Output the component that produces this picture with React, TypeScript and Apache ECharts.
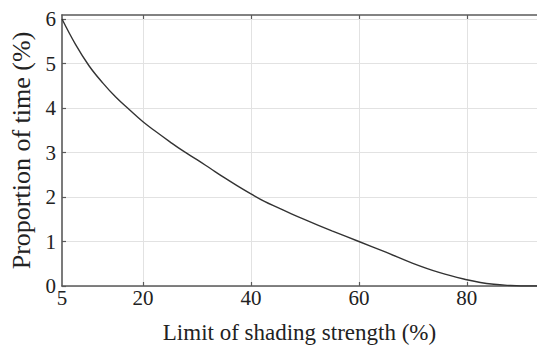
import React, { useEffect, useRef } from "react";
import * as echarts from "echarts";

const shadingLimit = [5, 7.5, 10, 12.5, 15, 17.5, 20, 22.5, 25, 27.5, 30, 32.5, 35, 37.5, 40, 42.5, 45, 47.5, 50, 55, 60, 65, 70, 75, 80, 82.5, 85, 87.5, 90, 93];
const proportionTime = [6.0, 5.43, 4.95, 4.57, 4.24, 3.96, 3.69, 3.46, 3.24, 3.03, 2.84, 2.64, 2.44, 2.25, 2.07, 1.9, 1.76, 1.62, 1.49, 1.24, 1.0, 0.76, 0.51, 0.3, 0.14, 0.08, 0.04, 0.015, 0.0, 0.0];
const xLabelValues = [5, 20, 40, 60, 80];
const xTickValues = [20, 40, 60, 80];
const yTickValues = [0, 1, 2, 3, 4, 5, 6];

const FONT = "'Liberation Serif', 'Times New Roman', serif";

export default function App() {
  const ref = useRef<HTMLDivElement>(null);
  useEffect(() => {
    if (!ref.current) return;
    const chart = echarts.init(ref.current, undefined, { renderer: "svg" });
    const axisLineStyle = { color: "#5a5a5a", width: 1.6 };
    const tickStyle = { color: "#5a5a5a", width: 1.2 };
    chart.setOption({
      animation: false,
      backgroundColor: "#ffffff",
      textStyle: { fontFamily: FONT },
      grid: { left: 62, top: 15, right: 0, bottom: 57, containLabel: false },
      xAxis: [
        {
          type: "value",
          min: 5,
          max: 93,
          name: "Limit of shading strength (%)",
          nameLocation: "middle",
          nameGap: 35,
          nameTextStyle: { fontFamily: FONT, fontSize: 23, color: "#222" },
          axisLine: { show: true, onZero: false, lineStyle: axisLineStyle },
          axisTick: { show: true, inside: true, length: 4, customValues: xTickValues, lineStyle: tickStyle },
          axisLabel: { customValues: xLabelValues, fontFamily: FONT, fontSize: 21, color: "#222", margin: 1 },
          splitLine: { show: true, lineStyle: { color: "#e2e2e2", width: 1 } },
        },
        {
          type: "value",
          position: "top",
          min: 5,
          max: 93,
          axisLine: { show: true, onZero: false, lineStyle: axisLineStyle },
          axisTick: { show: true, inside: true, length: 4, customValues: xTickValues, lineStyle: tickStyle },
          axisLabel: { show: false },
          splitLine: { show: false },
        },
      ],
      yAxis: {
        type: "value",
        min: 0,
        max: 6.09,
        name: "Proportion of time (%)",
        nameLocation: "middle",
        nameGap: 26,
        nameTextStyle: { fontFamily: FONT, fontSize: 26, color: "#222" },
        axisLine: { show: true, onZero: false, lineStyle: axisLineStyle },
        axisTick: { show: true, inside: true, length: 4, customValues: yTickValues, lineStyle: tickStyle },
        axisLabel: { customValues: yTickValues, fontFamily: FONT, fontSize: 21, color: "#222", margin: 6 },
        splitLine: { show: true, lineStyle: { color: "#e2e2e2", width: 1 } },
      },
      series: [
        {
          type: "line",
          data: shadingLimit.map((x, i) => [x, proportionTime[i]]),
          smooth: 0.4,
          showSymbol: false,
          lineStyle: { color: "#333", width: 1.4 },
        },
      ],
    });
    return () => chart.dispose();
  }, []);
  return <div ref={ref} style={{ width: 537, height: 349, position: "absolute", left: 0, top: 0 }} />;
}
